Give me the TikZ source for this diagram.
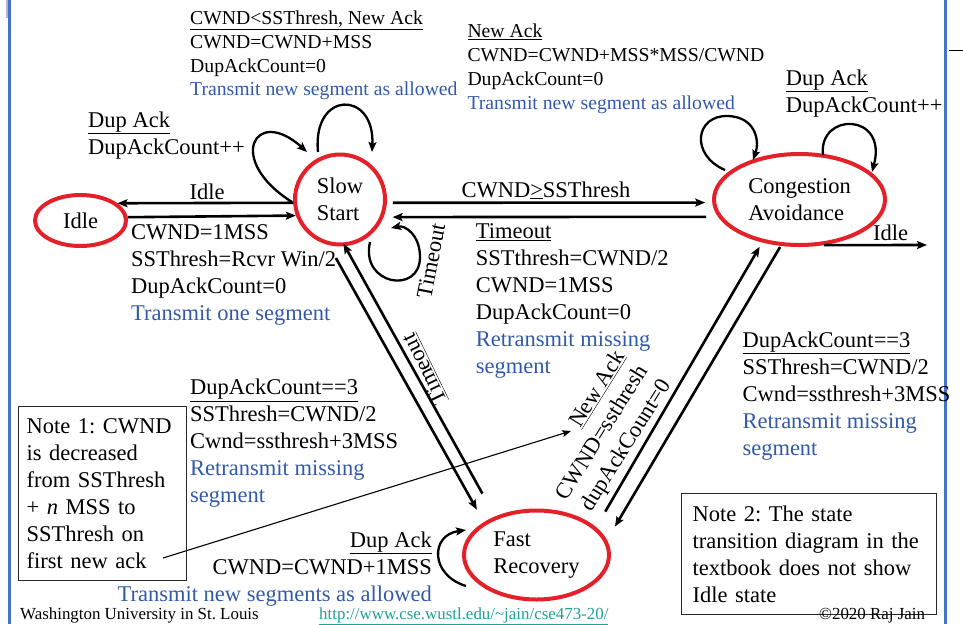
\documentclass[tikz,border=0pt]{standalone}
\usepackage{fontspec}
\setmainfont{Liberation Serif}
\usetikzlibrary{arrows.meta,calc,shapes.geometric}
\definecolor{statered}{RGB}{228,32,40}
\definecolor{txtblue}{RGB}{50,90,170}
\definecolor{frameblue}{RGB}{68,114,196}
\definecolor{framelight}{RGB}{175,182,212}
\definecolor{urlteal}{RGB}{32,160,150}
\definecolor{boxgray}{RGB}{40,40,40}
\newcommand\fbig{\fontsize{22.5}{27}\selectfont}
\newcommand\fsmall{\fontsize{19.7}{23.7}\selectfont}
\newcommand\ffoot{\fontsize{16.9}{20}\selectfont}
\frenchspacing
\begin{document}
\frenchspacing
\begin{tikzpicture}[x=1pt,y=1pt,
  stnode/.style={ellipse, draw=statered, line width=4pt, inner sep=0pt, align=left, font=\fbig},
  tb/.style={inner sep=0pt, align=left, font=\fbig},
  ts/.style={inner sep=0pt, align=left, font=\fsmall},
  arr/.style={line width=2.6pt, -{Stealth[length=10pt,width=8pt,inset=2pt]}},
  looparr/.style={line width=2.3pt, -{Stealth[length=10pt,width=8pt,inset=2pt]}},
  thinarr/.style={line width=1.1pt, -{Stealth[length=9pt,width=7pt,inset=2pt]}},
  notebox/.style={draw=boxgray, line width=1.2pt, align=left, font=\fbig, inner ysep=12pt},
  foot/.style={inner sep=0pt, font=\ffoot}
]
\useasboundingbox (0,0) rectangle (963,-624);

% frame lines
\draw[framelight, line width=2.5pt] (7.3,0) -- (7.3,-18);
\draw[frameblue, line width=3pt] (9.3,0) -- (9.3,-624);
\draw[frameblue, line width=3pt] (945,0) -- (945,-624);
\draw[line width=0.8pt] (949,-50.7) -- (963,-50.7);

% states
\node[stnode, minimum width=91pt, minimum height=51pt] (idle) at (80.5,-220.5) {Idle};
\node[stnode, minimum width=90pt, minimum height=90pt] (ss) at (340,-199.5) {Slow\\Start};
\node[stnode, minimum width=171pt, minimum height=91pt] (ca) at (799.5,-199.5) {Congestion\\Avoidance};
\node[stnode, minimum width=145pt, minimum height=89pt] (fr) at (536.5,-555) {Fast\\Recovery};

% transitions
\draw[arr] (ss.184) -- (idle.25);
\draw[arr] (idle.4) -- (ss.200);
\draw[arr, shorten <=6pt, shorten >=7pt] (ss.-4) -- (ca.182);
\draw[arr, shorten <=12pt, shorten >=9pt] (ca.192) -- (ss.-22);
\draw[arr, shorten <=14.8pt, shorten >=14.3pt] (ss.256) -- (fr.148);
\draw[arr, shorten <=26pt, shorten >=-3pt] (fr.137) -- (ss.276.5);
\draw[arr, shorten <=18pt, shorten >=5pt] (fr.25) -- (ca.229.4);
\draw[arr, shorten <=1.3pt, shorten >=15.6pt] (ca.248) -- (fr.12);
\coordinate (idleout) at (927,-245);
\draw[arr] (ca.-62.7) -- (idleout);

% self loops
\draw[looparr] ($(ss)+(-22,47.5)$) .. controls ($(ss)+(-28,109.5)$) and ($(ss)+(35,109.5)$) .. ($(ss)+(32,47.5)$);
\draw[looparr] ($(ss)+(-48,-2.5)$) .. controls ($(ss)+(-115,39.5)$) and ($(ss)+(-85,94.5)$) .. ($(ss)+(-33,47.5)$);
\draw[looparr] ($(ss)+(30,-42.5)$) .. controls ($(ss)+(20,-85.5)$) and ($(ss)+(80,-95.5)$) .. ($(ss)+(80,-57.5)$)
   .. controls ($(ss)+(80,-35.5)$) and ($(ss)+(65,-25.5)$) .. ($(ss)+(51,-28.5)$);
\draw[looparr] ($(ca)+(-74.5,29.5)$) .. controls ($(ca)+(-109.5,44.5)$) and ($(ca)+(-104.5,84.5)$) .. ($(ca)+(-71.5,83.5)$)
   .. controls ($(ca)+(-44.5,82.5)$) and ($(ca)+(-39.5,59.5)$) .. ($(ca)+(-46.5,39.5)$);
\draw[looparr] ($(ca)+(23.5,44.5)$) .. controls ($(ca)+(18.5,87.5)$) and ($(ca)+(88.5,87.5)$) .. ($(ca)+(72.5,27.5)$);
\draw[looparr] ($(fr)+(-70.5,-31)$) .. controls ($(fr)+(-106.5,-20)$) and ($(fr)+(-106.5,20)$) .. ($(fr)+(-70.5,25)$);

% labels
\node[ts, anchor=north west] (lssnew) at (190,-10.85) {\underline{CWND<SSThresh, New Ack}\\CWND=CWND+MSS\\DupAckCount=0\\\textcolor{txtblue}{Transmit new segment as allowed}};
\node[ts, anchor=north west] (lcanew) at (467.3,-24.05) {\underline{New Ack}\\CWND=CWND+MSS*MSS/CWND\\DupAckCount=0\\\textcolor{txtblue}{Transmit new segment as allowed}};
\node[tb, anchor=north west] (lssdup) at (88,-111.2) {\underline{Dup Ack}\\DupAckCount++};
\node[tb, anchor=base] (lidle1) at (207,-199) {Idle};
\node[tb, anchor=north west] (linit) at (131,-224.8) {CWND=1MSS\\SSThresh=Rcvr Win/2\\DupAckCount=0\\\textcolor{txtblue}{Transmit one segment}};
\node[tb, anchor=base] (lcwnd) at (546,-197) {CWND\underline{>}SSThresh};
\node[tb, anchor=north west] (lto) at (475.7,-223.1) {\underline{Timeout}\\SSTthresh=CWND/2\\CWND=1MSS\\DupAckCount=0\\\textcolor{txtblue}{Retransmit missing}\\\textcolor{txtblue}{segment}};
\node[tb, rotate=79] (ltoloop) at (431,-261) {Timeout};
\node[tb, rotate=116] (ltofr) at (425,-369) {\underline{Timeout}};
\node[tb, anchor=north west] (ldup3a) at (190,-378.8) {\underline{DupAckCount==3}\\SSThresh=CWND/2\\Cwnd=ssthresh+3MSS\\\textcolor{txtblue}{Retransmit missing}\\\textcolor{txtblue}{segment}};
\node[tb, anchor=north west] (ldup3b) at (742.3,-331.2) {\underline{DupAckCount==3}\\SSThresh=CWND/2\\Cwnd=ssthresh+3MSS\\\textcolor{txtblue}{Retransmit missing}\\\textcolor{txtblue}{segment}};
\node[tb, anchor=north west] (lcadup) at (785.7,-69.6) {\underline{Dup Ack}\\DupAckCount++};
\node[tb, anchor=base] (lidle2) at (890.5,-240.5) {Idle};
\node[tb, rotate=58, align=right] (lnewack) at (603,-433) {\underline{New Ack}\\CWND=ssthresh\\dupAckCount=0};
\node[tb, anchor=north east, align=right] (lfrdup) at (432,-531.2) {\underline{Dup Ack}\\CWND=CWND+1MSS\\\textcolor{txtblue}{Transmit new segments as allowed}};

% notes
\node[notebox, anchor=north west, text width=152pt, inner xsep=8pt] (note1) at (18,-406) {Note 1: CWND\\is decreased\\from SSThresh\\+ \textit{n} MSS to\\SSThresh on\\first new ack};
\node[notebox, anchor=north west, text width=233pt, inner xsep=11pt] (note2) at (681,-493) {Note 2: The state\\transition diagram in the\\textbook does not show\\Idle state};
\coordinate (n1a) at (163,-558);
\coordinate (n1b) at (571,-431);
\draw[thinarr] (n1a) -- (n1b);

% footer
\node[foot, anchor=base west] (fwu) at (20,-619.5) {Washington University in St. Louis};
\node[foot, anchor=base west, text=urlteal] (furl) at (319,-619.5) {\underline{http://www.cse.wustl.edu/\textasciitilde jain/cse473-20/}};
\node[foot, anchor=base west] (fcopy) at (819,-619) {©2020 Raj Jain};
\end{tikzpicture}
\end{document}
